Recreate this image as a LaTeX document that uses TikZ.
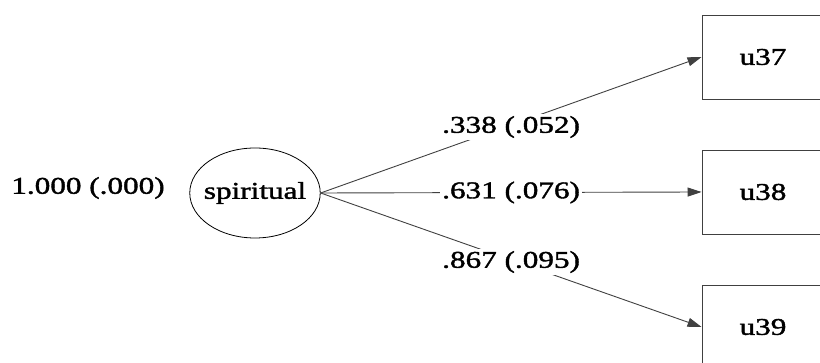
\documentclass[tikz,border=0pt]{standalone}
\usepackage{fontspec}
\setmainfont{Liberation Serif}[FakeStretch=1.3,FakeBold=1.6]
\usetikzlibrary{arrows.meta,shapes.geometric}
\begin{document}
\begin{tikzpicture}[x=1pt,y=1pt,
  every node/.style={font=\fontsize{24}{26}\selectfont},
  latent/.style={draw, ellipse, minimum width=130pt, minimum height=90pt, inner xsep=-5pt, inner ysep=0pt, line width=0.8pt},
  observed/.style={draw, rectangle, minimum width=122pt, minimum height=84pt, line width=0.9pt, draw=black!75},
  path/.style={draw=black!75, line width=0.9pt, -{Triangle[length=14pt,width=9pt]}},
  coef/.style={fill=white, inner sep=2pt}]
\useasboundingbox (0,0) rectangle (820,363);
\node[latent] (spiritual) at (255,170) {spiritual};
\node (var) at (88,175) {1.000 (.000)};
\node[observed] (u37) at (763,306) {u37};
\node[observed] (u38) at (763,171) {u38};
\node[observed] (u39) at (763,36) {u39};
\draw[path] (spiritual.east) -- node[coef, pos=0.5, yshift=-2pt] {.338 (.052)} (u37.west);
\draw[path] (spiritual.east) -- node[coef, pos=0.5] {.631 (.076)} (u38.west);
\draw[path] (spiritual.east) -- node[coef, pos=0.5, yshift=-2pt] {.867 (.095)} (u39.west);
\end{tikzpicture}
\end{document}
